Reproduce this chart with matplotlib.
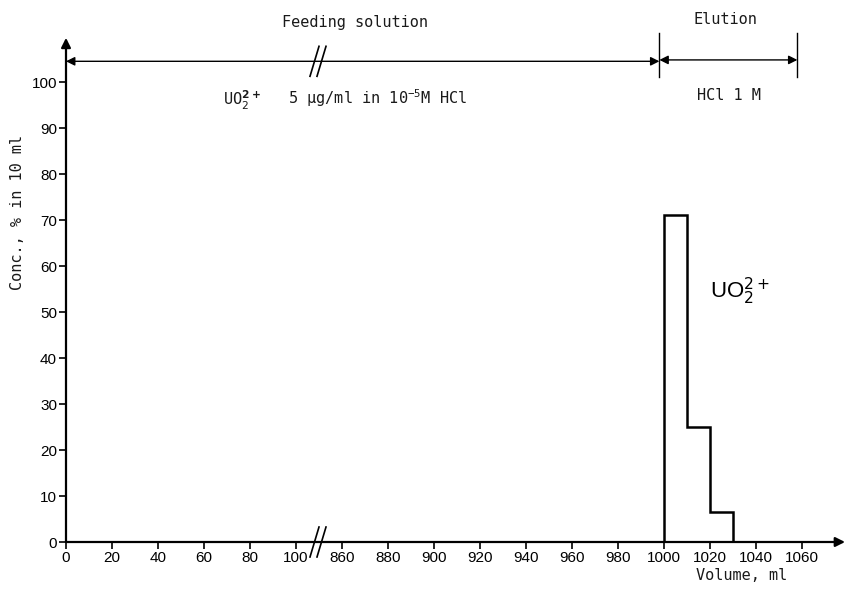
import numpy as np
import matplotlib.pyplot as plt
from matplotlib.lines import Line2D
from matplotlib.transforms import ScaledTranslation
from matplotlib import font_manager

# elution profile of UO2(2+), % of the load found in each 10 ml fraction
EDGES = [1000, 1010, 1020, 1030]
CONC = [71, 25, 6.5]

XTICKS = [0, 20, 40, 60, 80, 100, 860, 880, 900, 920, 940, 960, 980, 1000, 1020, 1040, 1060]
YTICKS = list(range(0, 101, 10))

FEED_END = 998
ELUTION_END = 1058
BREAK_AT = 480

MONO = "DejaVu Sans Mono"
names = {f.name for f in font_manager.fontManager.ttflist}
SANS = "Liberation Sans Narrow" if "Liberation Sans Narrow" in names else "Liberation Sans"
TICK_SIZE = 12.5 if SANS.endswith("Narrow") else 11


def fwd(v):
    # volume axis is broken between 100 and 860 ml
    v = np.asarray(v, dtype=float)
    return np.where(v <= 100, v, np.where(v >= 860, v - 740, 100 + (v - 100) * 20 / 760))


def inv(u):
    u = np.asarray(u, dtype=float)
    return np.where(u <= 100, u, np.where(u >= 120, u + 740, 100 + (u - 100) * 760 / 20))


W, H = 846, 591
fig = plt.figure(figsize=(W / 100, H / 100), dpi=100)
ax = fig.add_axes([66 / W, 49 / H, 780 / W, 506 / H])
ax.set_xscale("function", functions=(fwd, inv))
ax.set_xlim(0, float(inv(780 / 2.3)))
ax.set_ylim(0, 110)
for s in ax.spines.values():
    s.set_visible(False)

ax.stairs(CONC, EDGES, baseline=0, color="black", lw=1.8)

ax.set_xticks(XTICKS)
ax.set_xticklabels([str(t) for t in XTICKS])
ax.set_yticks(YTICKS)
ax.minorticks_off()
ax.tick_params(length=5, width=1.2, pad=1.5, labelsize=TICK_SIZE)
for lab in ax.get_xticklabels() + ax.get_yticklabels():
    lab.set_family(SANS)

# axes drawn as arrows
arrow = dict(arrowstyle="-|>", lw=1.6, color="black", shrinkA=0, shrinkB=0, mutation_scale=14)
ax.annotate("", xy=(float(inv(338.7)), 0), xytext=(0, 0), arrowprops=arrow, annotation_clip=False)
ax.annotate("", xy=(0, 109.6), xytext=(0, 0), arrowprops=arrow, annotation_clip=False)

# feeding / elution ranges across the top
span = dict(arrowstyle="<|-|>", lw=1.0, color="black", shrinkA=0, shrinkB=0, mutation_scale=13)
ax.annotate("", xy=(0, 104.5), xytext=(FEED_END, 104.5), arrowprops=span, annotation_clip=False)
ax.annotate("", xy=(FEED_END, 104.8), xytext=(ELUTION_END, 104.8), arrowprops=span, annotation_clip=False)
for xv in (FEED_END, ELUTION_END):
    ax.plot([xv, xv], [101, 110.6], color="black", lw=1.0, clip_on=False)

# axis-break marks
for yv in (0, 104.5):
    off = fig.dpi_scale_trans + ScaledTranslation(BREAK_AT, yv, ax.transData)
    for dx in (-0.045, 0.025):
        ax.add_line(Line2D([dx - 0.045, dx + 0.045], [-0.15, 0.15], color="black",
                           lw=1.2, transform=off, clip_on=False))


def px(x, y):
    return x / W, 1 - y / H


txt = dict(family=MONO, fontsize=11, color="#1a1a1a", ha="center", va="center")
fig.text(*px(355, 22), "Feeding solution", **txt)
fig.text(*px(725, 20), "Elution", **txt)
fig.text(*px(242, 100), r"UO$_{2}^{\mathbf{2+}}$", **txt)
fig.text(*px(378, 98), r"5 μg/ml in 10$^{\mathtt{-5}}$M HCl", **txt)
fig.text(*px(729, 96), "HCl 1 M", **txt)
fig.text(*px(742, 576), "Volume, ml", **txt)
fig.text(*px(18, 212), "Conc., % in 10 ml", rotation=90, **txt)
fig.text(*px(740, 291), r"UO$_2^{2+}$", family=SANS, fontsize=16, ha="center", va="center")

fig.savefig("out.png", dpi=100, facecolor="white")
